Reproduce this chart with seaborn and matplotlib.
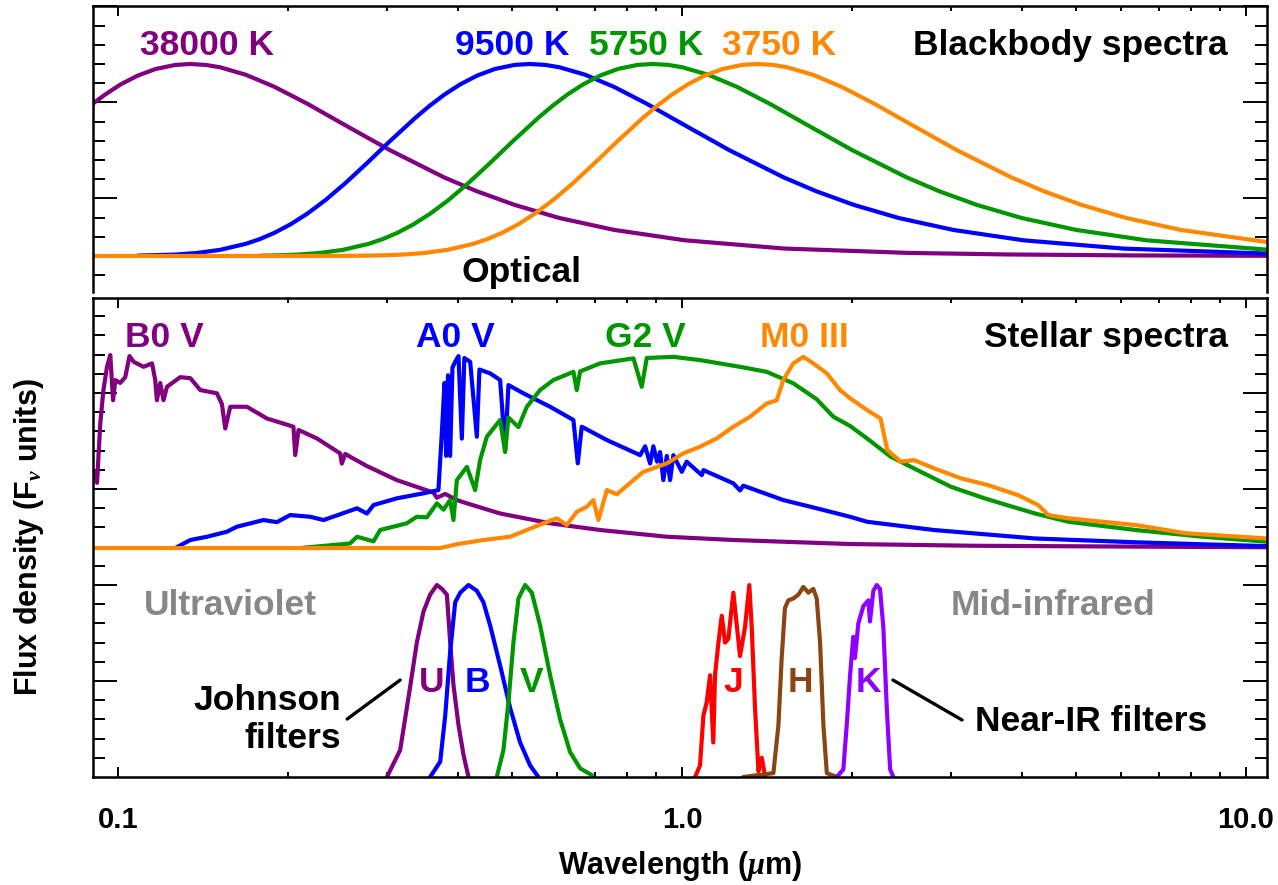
import numpy as np
import pandas as pd
import matplotlib
matplotlib.use("Agg")
import matplotlib.pyplot as plt
import seaborn as sns
from matplotlib.ticker import FixedLocator, NullFormatter, LogLocator

# ---------------- data (wavelength in micron, normalised flux) ----------------
# Blackbody spectra (F_nu, peak = 1)
wl_bb_38000 = [0.0902, 0.0947, 0.1010, 0.1082, 0.1165, 0.1262, 0.1342, 0.1429, 0.1515, 0.1683,
               0.1893, 0.2164, 0.2524, 0.3029, 0.3786, 0.4327, 0.5048, 0.6058, 0.7573, 1.0097,
               1.5145, 2.524, 3.786, 6.311, 10.9]
fl_bb_38000 = [0.794, 0.840, 0.894, 0.939, 0.974, 0.995, 1.0, 0.995, 0.983, 0.944,
               0.881, 0.793, 0.682, 0.552, 0.409, 0.337, 0.266, 0.198, 0.136, 0.082,
               0.039, 0.016, 0.008, 0.003, 0.001]

wl_bb_9500 = [0.1082, 0.1262, 0.1377, 0.1515, 0.1683, 0.1782, 0.1893, 0.2019, 0.2164, 0.2330,
              0.2524, 0.2754, 0.3029, 0.3366, 0.3564, 0.3786, 0.4039, 0.4327, 0.4660, 0.5048,
              0.5369, 0.5715, 0.6058, 0.6731, 0.7573, 0.8655, 1.0097, 1.2116, 1.5145, 1.7309,
              2.0194, 2.4232, 3.0291, 4.0388, 6.0581, 10.9]
fl_bb_9500 = [0.002, 0.0075, 0.0156, 0.0319, 0.0633, 0.0879, 0.1209, 0.1643, 0.2203, 0.2909,
              0.3776, 0.4804, 0.5966, 0.7202, 0.7815, 0.8401, 0.8935, 0.9393, 0.9743, 0.9953,
              1.0, 0.9954, 0.983, 0.9441, 0.8809, 0.793, 0.682, 0.5518, 0.4094, 0.3369,
              0.2657, 0.1978, 0.1356, 0.0815, 0.0387, 0.0127]

wl_bb_5750 = [0.1787, 0.1925, 0.2085, 0.2275, 0.2502, 0.2780, 0.2944, 0.3128, 0.3336, 0.3575,
              0.3850, 0.4170, 0.4550, 0.5005, 0.5561, 0.5888, 0.6256, 0.6673, 0.7149, 0.7699,
              0.8341, 0.8870, 0.9442, 1.0009, 1.1121, 1.2511, 1.4299, 1.6682, 2.0018, 2.5023,
              2.8597, 3.3363, 4.0036, 5.0045, 6.6727, 10.9]
fl_bb_5750 = [0.0016, 0.0035, 0.0075, 0.0156, 0.0319, 0.0633, 0.0879, 0.1209, 0.1643, 0.2203,
              0.2909, 0.3776, 0.4804, 0.5966, 0.7202, 0.7815, 0.8401, 0.8935, 0.9393, 0.9743,
              0.9953, 1.0, 0.9954, 0.983, 0.9441, 0.8809, 0.793, 0.682, 0.5518, 0.4094,
              0.3369, 0.2657, 0.1978, 0.1356, 0.0815, 0.033]

wl_bb_3750 = [0.0902, 0.2398, 0.2741, 0.2951, 0.3197, 0.3488, 0.3837, 0.4263, 0.4514, 0.4796,
              0.5116, 0.5481, 0.5903, 0.6395, 0.6976, 0.7674, 0.8526, 0.9028, 0.9592, 1.0231,
              1.0962, 1.1806, 1.2789, 1.3601, 1.4478, 1.5347, 1.7053, 1.9184, 2.1925, 2.5579,
              3.0694, 3.8368, 4.3849, 5.1157, 6.1389, 7.6736, 10.9]
fl_bb_3750 = [0.0, 0.0003, 0.0016, 0.0035, 0.0075, 0.0156, 0.0319, 0.0633, 0.0879, 0.1209,
              0.1643, 0.2203, 0.2909, 0.3776, 0.4804, 0.5966, 0.7202, 0.7815, 0.8401, 0.8935,
              0.9393, 0.9743, 0.9953, 1.0, 0.9954, 0.983, 0.9441, 0.8809, 0.793, 0.682,
              0.5518, 0.4094, 0.3369, 0.2657, 0.1978, 0.1356, 0.0727]

# Stellar spectra (F_nu, peak ~ 1)
wl_b0v = [0.0908, 0.0917, 0.0929, 0.0941, 0.0955, 0.0968, 0.0979, 0.0988, 0.1008, 0.1029,
          0.1047, 0.1065, 0.1109, 0.1148, 0.1163, 0.1171, 0.1187, 0.1203, 0.1220, 0.1288,
          0.1342, 0.1398, 0.1496, 0.1527, 0.1548, 0.1580, 0.1691, 0.1835, 0.2045, 0.2060,
          0.2088, 0.2251, 0.2475, 0.2492, 0.2526, 0.2761, 0.3119, 0.3623, 0.3674, 0.3801,
          0.3986, 0.4152, 0.4757, 0.5834, 0.7155, 0.9395, 1.233, 1.619, 1.986, 3.28,
          10.9]
fl_b0v = [0.398, 0.34, 0.646, 0.82, 0.944, 1.005, 0.77, 0.875, 0.86, 0.89,
          1.0, 0.97, 0.944, 0.962, 0.875, 0.77, 0.86, 0.77, 0.84, 0.89,
          0.885, 0.823, 0.806, 0.75, 0.623, 0.736, 0.736, 0.675, 0.632, 0.484,
          0.615, 0.571, 0.493, 0.44, 0.49, 0.427, 0.354, 0.289, 0.262, 0.282,
          0.25, 0.233, 0.18, 0.129, 0.094, 0.059, 0.042, 0.03, 0.021, 0.012,
          0.004]

wl_a0v = [0.1262, 0.1342, 0.1437, 0.1558, 0.1623, 0.1810, 0.1911, 0.2018, 0.2190, 0.2312,
          0.2442, 0.2651, 0.2761, 0.2836, 0.3119, 0.3477, 0.3697, 0.3749, 0.3790, 0.3815,
          0.3845, 0.3878, 0.3915, 0.3958, 0.4013, 0.4068, 0.4110, 0.4209, 0.4325, 0.4371,
          0.4566, 0.4757, 0.4855, 0.4921, 0.5231, 0.5834, 0.6416, 0.6532, 0.6638, 0.7356,
          0.8425, 0.8600, 0.8777, 0.8894, 0.9030, 0.9141, 0.9264, 0.9395, 0.9522, 0.9651,
          0.9988, 1.019, 1.084, 1.091, 1.233, 1.267, 1.284, 1.512, 1.733, 1.986,
          2.128, 2.798, 4.226, 6.372, 10.9]
fl_a0v = [0.0, 0.042, 0.059, 0.085, 0.111, 0.146, 0.135, 0.172, 0.163, 0.146,
          0.17, 0.207, 0.18, 0.224, 0.259, 0.285, 0.302, 0.60, 0.86, 0.48,
          0.90, 0.48, 0.94, 0.97, 1.0, 0.57, 0.99, 0.97, 0.58, 0.93,
          0.91, 0.875, 0.51, 0.849, 0.806, 0.736, 0.667, 0.441, 0.632, 0.5625,
          0.484, 0.53, 0.44, 0.53, 0.45, 0.50, 0.354, 0.48, 0.354, 0.484,
          0.397, 0.45, 0.38, 0.406, 0.337, 0.30, 0.325, 0.25, 0.207, 0.163,
          0.137, 0.094, 0.05, 0.03, 0.01]

wl_g2v = [0.2102, 0.2577, 0.2651, 0.2836, 0.2914, 0.3249, 0.3385, 0.3526, 0.3674, 0.3774,
          0.3878, 0.3931, 0.3986, 0.4152, 0.4295, 0.4383, 0.4505, 0.4757, 0.4855, 0.4921,
          0.5126, 0.5304, 0.5600, 0.5912, 0.6416, 0.6505, 0.6594, 0.7155, 0.8199, 0.8482,
          0.8658, 0.9651, 1.076, 1.267, 1.413, 1.575, 1.733, 1.855, 1.986, 2.128,
          2.344, 2.615, 2.999, 3.440, 4.226, 4.845, 6.372, 8.381, 10.9]
fl_g2v = [0.0, 0.024, 0.059, 0.035, 0.094, 0.129, 0.163, 0.16, 0.233, 0.2,
          0.25, 0.146, 0.354, 0.423, 0.302, 0.458, 0.58, 0.667, 0.5, 0.68,
          0.63, 0.736, 0.823, 0.875, 0.918, 0.823, 0.92, 0.962, 0.988, 0.84,
          0.99, 0.996, 0.979, 0.944, 0.918, 0.858, 0.775, 0.684, 0.636, 0.571,
          0.476, 0.406, 0.319, 0.259, 0.18, 0.137, 0.094, 0.059, 0.033]

wl_m0iii = [0.0902, 0.3724, 0.3986, 0.4443, 0.4955, 0.5304, 0.5676, 0.5995, 0.6244, 0.6505,
            0.6776, 0.6961, 0.7105, 0.7356, 0.7659, 0.8199, 0.8538, 0.9395, 1.005, 1.076,
            1.152, 1.233, 1.320, 1.413, 1.472, 1.512, 1.575, 1.641, 1.709, 1.806,
            1.906, 1.986, 2.128, 2.249, 2.312, 2.443, 2.580, 2.801, 3.125, 3.486,
            3.942, 4.282, 4.461, 4.845, 6.372, 7.829, 10.9]
fl_m0iii = [0.0, 0.0, 0.02, 0.042, 0.059, 0.094, 0.129, 0.155, 0.12, 0.189,
            0.215, 0.25, 0.146, 0.302, 0.28, 0.354, 0.397, 0.441, 0.493, 0.528,
            0.571, 0.632, 0.684, 0.753, 0.77, 0.875, 0.962, 0.996, 0.962, 0.91,
            0.823, 0.78, 0.719, 0.675, 0.51, 0.45, 0.458, 0.415, 0.363, 0.328,
            0.276, 0.224, 0.172, 0.155, 0.12, 0.077, 0.05]

# Filter transmission curves (peak = 1)
wl_U = [0.2996, 0.3162, 0.3294, 0.3385, 0.3477, 0.3574, 0.3674, 0.3750, 0.3827, 0.3878,
        0.3931, 0.4013, 0.4096, 0.4180]
tr_U = [0.0, 0.14, 0.47, 0.70, 0.86, 0.95, 1.0, 0.98, 0.95, 0.705,
        0.48, 0.27, 0.115, 0.0]
wl_B = [0.3574, 0.3724, 0.3801, 0.3878, 0.3959, 0.4041, 0.4180, 0.4325, 0.4443, 0.4566,
        0.4757, 0.4955, 0.5161, 0.5377, 0.5561]
tr_B = [0.0, 0.08, 0.32, 0.65, 0.91, 0.96, 1.0, 0.97, 0.91, 0.79,
        0.58, 0.36, 0.18, 0.06, 0.0]
wl_V = [0.4692, 0.4821, 0.4921, 0.5022, 0.5126, 0.5267, 0.5414, 0.5600, 0.5834, 0.6077,
        0.6330, 0.6594, 0.6916]
tr_V = [0.0, 0.14, 0.39, 0.70, 0.93, 1.0, 0.96, 0.79, 0.53, 0.30,
        0.13, 0.045, 0.01]
wl_J = [1.0545, 1.076, 1.091, 1.106, 1.121, 1.136, 1.144, 1.160, 1.176, 1.192,
        1.208, 1.233, 1.267, 1.293, 1.316, 1.329, 1.347, 1.366, 1.385, 1.404]
tr_J = [0.0, 0.06, 0.32, 0.39, 0.53, 0.18, 0.53, 0.70, 0.84, 0.70,
        0.72, 0.96, 0.63, 0.78, 1.0, 0.78, 0.36, 0.03, 0.10, 0.0]
wl_H = [1.284, 1.452, 1.482, 1.502, 1.522, 1.543, 1.575, 1.608, 1.641, 1.675,
        1.709, 1.733, 1.757, 1.781, 1.806, 1.881]
tr_H = [0.0, 0.02, 0.27, 0.62, 0.88, 0.92, 0.93, 0.95, 0.99, 0.96,
        0.98, 0.93, 0.70, 0.27, 0.02, 0.0]
wl_K = [1.881, 1.932, 1.959, 1.986, 2.012, 2.026, 2.054, 2.097, 2.140, 2.154,
        2.184, 2.214, 2.244, 2.275, 2.307, 2.339, 2.370]
tr_K = [0.0, 0.04, 0.27, 0.53, 0.73, 0.62, 0.80, 0.89, 0.92, 0.81,
        0.97, 1.0, 0.98, 0.78, 0.36, 0.04, 0.0]

bb_labels = ["38000 K", "9500 K", "5750 K", "3750 K"]
star_labels = ["B0 V", "A0 V", "G2 V", "M0 III"]
filter_labels = ["U", "B", "V", "J", "H", "K"]
xtick_values = [0.1, 1.0, 10.0]
xtick_labels = ["0.1", "1.0", "10.0"]

# ---------------- style ----------------
sns.set_style("ticks")
plt.rcParams['font.family'] = ['Liberation Sans', 'DejaVu Sans']
plt.rcParams['font.weight'] = 'bold'
plt.rcParams['text.color'] = 'black'
plt.rcParams['axes.labelcolor'] = 'black'
plt.rcParams['mathtext.fontset'] = 'custom'
plt.rcParams['mathtext.rm'] = 'Liberation Sans:bold'
plt.rcParams['mathtext.it'] = 'Liberation Serif:italic:bold'
plt.rcParams['mathtext.bf'] = 'Liberation Sans:bold'

PURPLE = '#800080'
BLUE = '#0000FF'
GREEN = '#009600'
ORANGE = '#FF8800'
RED = '#FF0000'
BROWN = '#8B4513'
VIOLET = '#8F00FF'
GRAY = '#878787'
FS = 25.5
LW = 3.0

W, H = 1278, 885
fig = plt.figure(figsize=(W / 100, H / 100), dpi=100)
ax_top = fig.add_axes([93 / W, 1 - 292 / H, 1174 / W, 286 / H])
ax_bot = fig.add_axes([93 / W, 1 - 777 / H, 1174 / W, 479 / H])
for ax in (ax_top, ax_bot):
    ax.set_xscale('log')


def draw(ax, wl, fl, color, offset=0.0, scale=1.0):
    df = pd.DataFrame({'wl': wl, 'flux': offset + scale * np.asarray(fl, dtype=float)})
    sns.lineplot(data=df, x='wl', y='flux', ax=ax, color=color, linewidth=LW,
                 sort=False, estimator=None)


# top panel: blackbodies
for wl, fl, c in [(wl_bb_38000, fl_bb_38000, PURPLE), (wl_bb_9500, fl_bb_9500, BLUE),
                  (wl_bb_5750, fl_bb_5750, GREEN), (wl_bb_3750, fl_bb_3750, ORANGE)]:
    draw(ax_top, wl, fl, c)

# lower panel: stellar spectra (offset) + filters
STAR_OFF, STAR_SCALE = 2.385, 2.0
for wl, fl, c in [(wl_b0v, fl_b0v, PURPLE), (wl_a0v, fl_a0v, BLUE),
                  (wl_g2v, fl_g2v, GREEN), (wl_m0iii, fl_m0iii, ORANGE)]:
    draw(ax_bot, wl, fl, c, STAR_OFF, STAR_SCALE)
for wl, tr, c in [(wl_U, tr_U, PURPLE), (wl_B, tr_B, BLUE), (wl_V, tr_V, GREEN),
                  (wl_J, tr_J, RED), (wl_H, tr_H, BROWN), (wl_K, tr_K, VIOLET)]:
    draw(ax_bot, wl, tr, c, 0.0, 2.0)

# ---------------- axes formatting ----------------
for ax in (ax_top, ax_bot):
    ax.set_xlim(0.0902, 10.9)
    ax.xaxis.set_major_locator(FixedLocator(xtick_values))
    ax.xaxis.set_minor_locator(LogLocator(base=10, subs=np.arange(2, 10), numticks=30))
    ax.xaxis.set_minor_formatter(NullFormatter())
    ax.tick_params(axis='both', which='both', direction='in', top=True, right=True,
                   left=True, bottom=True, width=1.4, colors='black')
    ax.tick_params(axis='y', which='major', length=17)
    ax.tick_params(axis='y', which='minor', length=8.6)
    ax.tick_params(axis='x', which='major', length=7.2)
    ax.tick_params(axis='x', which='minor', length=3.6)
    ax.tick_params(axis='y', labelleft=False, labelright=False)
    for s in ax.spines.values():
        s.set_linewidth(1.8)
        s.set_color('black')
    ax.set_xlabel('')
    ax.set_ylabel('')

ax_top.set_ylim(-0.1875, 1.302)
ax_top.yaxis.set_major_locator(FixedLocator([0.3, 0.8, 1.3]))
ax_top.yaxis.set_minor_locator(FixedLocator(np.round(np.arange(-0.1, 1.25, 0.1), 2)))
ax_top.spines['bottom'].set_visible(False)
ax_top.tick_params(axis='x', which='both', bottom=False, labelbottom=False, labeltop=False)

ax_bot.set_ylim(0, 4.99)
ax_bot.yaxis.set_major_locator(FixedLocator([1, 2, 3, 4]))
ax_bot.yaxis.set_minor_locator(FixedLocator(np.round(np.arange(0.2, 4.99, 0.2), 2)))
ax_bot.set_xticks(xtick_values)
ax_bot.set_xticklabels(xtick_labels)
ax_bot.tick_params(axis='x', which='major', labelsize=21, pad=21, labeltop=False)

ax_bot.set_xlabel('Wavelength ($\\mu$m)', fontsize=22, fontweight='bold', color='black')
ax_bot.xaxis.set_label_coords(0.5, (777 - 866) / 479)
ax_bot.xaxis.label.set_va('center')
ax_bot.set_ylabel('Flux density (F$_\\nu$ units)', fontsize=22, fontweight='bold', color='black')
ax_bot.yaxis.set_label_coords((29 - 93) / 1174, 0.5)
ax_bot.yaxis.label.set_va('center')

# ---------------- annotations ----------------
tk = dict(fontsize=FS, fontweight='bold', va='baseline')
ax_top.text(0.1094, 1.047, bb_labels[0], color=PURPLE, ha='left', **tk)
ax_top.text(0.4995, 1.047, bb_labels[1], color=BLUE, ha='center', **tk)
ax_top.text(0.8633, 1.047, bb_labels[2], color=GREEN, ha='center', **tk)
ax_top.text(1.486, 1.047, bb_labels[3], color=ORANGE, ha='center', **tk)
ax_top.text(9.29, 1.047, 'Blackbody spectra', color='black', ha='right', **tk)
ax_top.text(0.518, -0.136, 'Optical', color='black', ha='center', **tk)

ax_bot.text(0.1029, 4.482, star_labels[0], color=PURPLE, ha='left', **tk)
ax_bot.text(0.3958, 4.482, star_labels[1], color=BLUE, ha='center', **tk)
ax_bot.text(0.860, 4.482, star_labels[2], color=GREEN, ha='center', **tk)
ax_bot.text(1.645, 4.482, star_labels[3], color=ORANGE, ha='center', **tk)
ax_bot.text(9.29, 4.482, 'Stellar spectra', color='black', ha='right', **tk)

ax_bot.text(0.158, 1.6875, 'Ultraviolet', color=GRAY, ha='center', **tk)
ax_bot.text(4.548, 1.6875, 'Mid-infrared', color=GRAY, ha='center', **tk)

for lab, xc, c in zip(filter_labels, [0.3600, 0.4330, 0.5398, 1.234, 1.624, 2.137],
                      [PURPLE, BLUE, GREEN, RED, BROWN, VIOLET]):
    ax_bot.text(xc, 0.889, lab, color=c, ha='center', **tk)

ax_bot.text(0.2485, 0.698, 'Johnson', color='black', ha='right', **tk)
ax_bot.text(0.2485, 0.302, 'filters', color='black', ha='right', **tk)
ax_bot.text(3.307, 0.479, 'Near-IR filters', color='black', ha='left', **tk)
ax_bot.annotate('', xy=(0.3162, 1.01), xytext=(0.2547, 0.604),
                arrowprops=dict(arrowstyle='-', lw=2.4, color='black', shrinkA=0, shrinkB=0))
ax_bot.annotate('', xy=(2.366, 1.01), xytext=(3.137, 0.594),
                arrowprops=dict(arrowstyle='-', lw=2.4, color='black', shrinkA=0, shrinkB=0))

fig.savefig('out.png', dpi=100, facecolor='white')
